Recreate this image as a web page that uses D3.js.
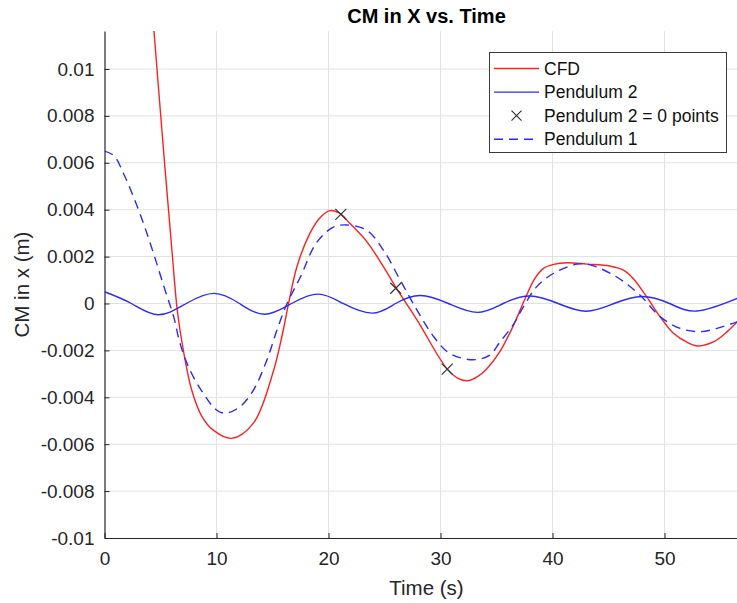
<!DOCTYPE html>
<html>
<head>
<meta charset="utf-8">
<script src="https://cdn.jsdelivr.net/npm/d3@7"></script>
<style>
  html, body { margin: 0; padding: 0; background: #fff; }
  svg { display: block; font-family: "Liberation Sans", Arial, Helvetica, sans-serif; }
</style>
</head>
<body>
<svg id="chart" width="737" height="603"></svg>
<script>
// ---- data ----
const cfdT = [4.0, 4.42, 5.31, 6.05, 6.5, 7.04, 7.79, 8.68, 9.71, 11.36, 13.3, 15.07, 15.96, 16.41, 17.2, 18.35, 19.24, 20.13, 21.0, 21.9, 23.4, 25.0, 26.0, 27.9, 30.6, 31.6, 32.5, 33.3, 34.1, 35.3, 36.5, 37.5, 38.4, 39.2, 40.1, 41.3, 43.05, 45.1, 46.3, 47.2, 48.4, 49.6, 50.8, 52.0, 53.0, 54.4, 55.6, 56.5];
const cfdV = [0.0141, 0.0116, 0.0063, 0.0021, -0.0003, -0.0020, -0.0037, -0.0048, -0.0054, -0.00575, -0.0051, -0.0029, -0.00113, -0.00006, 0.0016, 0.0030, 0.00366, 0.00396, 0.00385, 0.00342, 0.00265, 0.0015, 0.0007, -0.0007, -0.0028, -0.0032, -0.00329, -0.00312, -0.0028, -0.00205, -0.00095, 0.00015, 0.00105, 0.0015, 0.00167, 0.00174, 0.00168, 0.0016, 0.00143, 0.00107, 0.00029, -0.00056, -0.00127, -0.00165, -0.00181, -0.00163, -0.0012, -0.00078];

const pend2T = [0, 2.4, 4.8, 7.3, 9.8, 12.05, 14.3, 16.7, 19.1, 21.3, 23.9, 26.0, 28.2, 30.7, 33.3, 35.6, 38.0, 40.5, 43.0, 45.5, 48.0, 50.45, 52.9, 56.5];
const pend2V = [0.0005, 0, -0.00048, 0, 0.00043, 0, -0.00046, 0, 0.0004, 0, -0.00041, 0, 0.00034, 0, -0.00038, 0, 0.00032, 0, -0.00033, 0, 0.0003, 0, -0.00032, 0.00022];

const pend1T = [0, 0.85, 1.74, 2.63, 3.53, 4.42, 5.4, 6.2, 6.74, 7.63, 8.82, 10.0, 10.8, 12.1, 13.3, 14.5, 15.4, 16.3, 17.5, 18.9, 20.4, 21.6, 23.4, 24.9, 26.4, 27.9, 29.4, 30.8, 32.9, 34.4, 35.3, 36.5, 37.4, 38.6, 40.1, 42.2, 43.3, 45.7, 47.8, 49.6, 51.4, 53.2, 54.7, 56.5];
const pend1V = [0.0065, 0.0063, 0.0055, 0.0045, 0.00335, 0.00207, 0.00058, -0.0006, -0.0017, -0.00284, -0.00383, -0.00454, -0.00468, -0.0044, -0.00369, -0.00241, -0.00113, 0.0, 0.00114, 0.00257, 0.00325, 0.00335, 0.00313, 0.00228, 0.001, -0.00028, -0.00142, -0.00212, -0.0024, -0.0022, -0.00165, -0.0009, -0.00014, 0.00072, 0.00129, 0.00168, 0.00166, 0.00114, 0.00036, -0.00056, -0.00106, -0.0012, -0.00106, -0.00078];

const zeroT = [21.1, 26.0, 30.6];
const zeroV = [0.0038, 0.00065, -0.0028];

const xTicks = [0, 10, 20, 30, 40, 50];
const yTicks = [-0.01, -0.008, -0.006, -0.004, -0.002, 0, 0.002, 0.004, 0.006, 0.008, 0.01];
const yTickLabels = ["-0.01", "-0.008", "-0.006", "-0.004", "-0.002", "0", "0.002", "0.004", "0.006", "0.008", "0.01"];

const legendNames = ["CFD", "Pendulum 2", "Pendulum 2 = 0 points", "Pendulum 1"];

// ---- layout ----
const L = 104.5, R = 748.5, T = 31, B = 538;
const axisColor = "#262626";
const gridColor = "#e1e1e1";

const svg = d3.select("#chart");
const x = d3.scaleLinear().domain([0, 57.5]).range([L, R]);
const y = d3.scaleLinear().domain([-0.01, 0.01162]).range([B, T]);

svg.append("defs").append("clipPath").attr("id", "clip")
  .append("rect").attr("x", L).attr("y", T).attr("width", R - L).attr("height", B - T);

// grid
const grid = svg.append("g");
grid.selectAll("line.gx").data(xTicks.filter(d => d !== 0)).join("line")
  .attr("x1", d => x(d)).attr("x2", d => x(d)).attr("y1", T).attr("y2", B)
  .attr("stroke", gridColor).attr("stroke-width", 1);
grid.selectAll("line.gy").data(yTicks.filter(d => d !== -0.01)).join("line")
  .attr("class", "gy")
  .attr("x1", L).attr("x2", R).attr("y1", d => y(d)).attr("y2", d => y(d))
  .attr("stroke", gridColor).attr("stroke-width", 1);

// axes
const xAxis = d3.axisBottom(x).tickValues(xTicks).tickSizeInner(-5).tickSizeOuter(0).tickPadding(14).tickFormat(d3.format("d"));
const gx = svg.append("g").attr("transform", `translate(0,${B})`).call(xAxis);
gx.select(".domain").attr("stroke", axisColor).attr("stroke-width", 1.2);
gx.selectAll(".tick line").attr("stroke", axisColor);
gx.selectAll(".tick text").attr("fill", axisColor).attr("font-size", 19).attr("font-family", "Liberation Sans, Arial, sans-serif");

const yAxis = d3.axisLeft(y).tickValues(yTicks).tickSizeInner(-5).tickSizeOuter(0).tickPadding(10)
  .tickFormat((d, i) => yTickLabels[i]);
const gy = svg.append("g").attr("transform", `translate(${L},0)`).call(yAxis);
gy.select(".domain").attr("stroke", axisColor).attr("stroke-width", 1.2);
gy.selectAll(".tick line").attr("stroke", axisColor);
gy.selectAll(".tick text").attr("fill", axisColor).attr("font-size", 19).attr("font-family", "Liberation Sans, Arial, sans-serif");

// lines
const plot = svg.append("g").attr("clip-path", "url(#clip)");
const line = d3.line().x(d => x(d[0])).y(d => y(d[1])).curve(d3.curveCatmullRom.alpha(0.5));
const lineSmooth = d3.line().x(d => x(d[0])).y(d => y(d[1])).curve(d3.curveNatural);
const zip = (a, b) => a.map((t, i) => [t, b[i]]);

plot.append("path").datum(zip(cfdT, cfdV)).attr("d", line)
  .attr("fill", "none").attr("stroke", "#ff2020").attr("stroke-width", 1.4);
plot.append("path").datum(zip(pend2T, pend2V)).attr("d", lineSmooth)
  .attr("fill", "none").attr("stroke", "#2a2aff").attr("stroke-width", 1.4);

const xMark = (g, cx, cy, s) => {
  g.append("path").attr("d", `M${cx - s},${cy - s}L${cx + s},${cy + s}M${cx - s},${cy + s}L${cx + s},${cy - s}`)
    .attr("stroke", "#333").attr("stroke-width", 1.2).attr("fill", "none");
};
zip(zeroT, zeroV).forEach(p => xMark(plot, x(p[0]), y(p[1]), 5.5));

plot.append("path").datum(zip(pend1T, pend1V)).attr("d", line)
  .attr("fill", "none").attr("stroke", "#2a2aff").attr("stroke-width", 1.4)
  .attr("stroke-dasharray", "9,6");

// title and labels
svg.append("text").attr("x", (L + R) / 2).attr("y", 23).attr("text-anchor", "middle")
  .attr("font-size", 20).attr("font-weight", "bold").attr("fill", "#000")
  .text("CM in X vs. Time");
svg.append("text").attr("x", (L + R) / 2).attr("y", 595).attr("text-anchor", "middle")
  .attr("font-size", 20.5).attr("fill", axisColor).text("Time (s)");
svg.append("text").attr("transform", `translate(29,${(T + B) / 2}) rotate(-90)`).attr("text-anchor", "middle")
  .attr("font-size", 20.5).attr("fill", axisColor).text("CM in x (m)");

// legend
const lg = svg.append("g");
lg.append("rect").attr("x", 489.5).attr("y", 52.5).attr("width", 237).attr("height", 100)
  .attr("fill", "#fff").attr("stroke", "#3a3a3a").attr("stroke-width", 1);
const rowY = i => 68.5 + i * 23.6;
legendNames.forEach((name, i) => {
  const yy = rowY(i);
  if (i === 0) lg.append("line").attr("x1", 494).attr("x2", 539).attr("y1", yy).attr("y2", yy).attr("stroke", "#ff2020").attr("stroke-width", 1.4);
  if (i === 1) lg.append("line").attr("x1", 494).attr("x2", 539).attr("y1", yy).attr("y2", yy).attr("stroke", "#2a2aff").attr("stroke-width", 1.4);
  if (i === 2) xMark(lg, 516.5, yy, 5);
  if (i === 3) lg.append("line").attr("x1", 494).attr("x2", 539).attr("y1", yy).attr("y2", yy).attr("stroke", "#2a2aff").attr("stroke-width", 1.4).attr("stroke-dasharray", "9,6");
  lg.append("text").attr("x", 544).attr("y", yy).attr("dy", "0.35em").attr("font-size", 17.5).attr("fill", "#111").text(name);
});
</script>
</body>
</html>
